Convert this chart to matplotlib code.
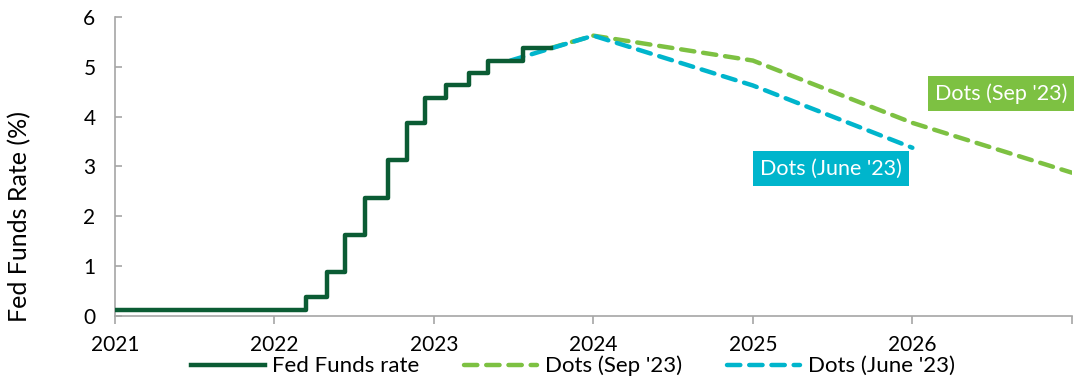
import matplotlib.pyplot as plt

plt.rcParams['font.family'] = ['Lato', 'DejaVu Sans']

# Fed funds, step changes (year fraction, level)
ff_fechas = [2021.0, 2022.20, 2022.33, 2022.445, 2022.565, 2022.715, 2022.834,
             2022.947, 2023.079, 2023.217, 2023.337, 2023.557, 2023.732]
ff_tasas = [0.125, 0.375, 0.875, 1.625, 2.375, 3.125, 3.875,
            4.375, 4.625, 4.875, 5.125, 5.375, 5.375]

sep_fechas = [2023.732, 2024.0, 2025.0, 2026.0, 2027.0]
sep_tasas = [5.375, 5.625, 5.125, 3.875, 2.875]

jun_fechas = [2023.48, 2024.0, 2025.0, 2026.0]
jun_tasas = [5.125, 5.625, 4.625, 3.375]

anios = [2021, 2022, 2023, 2024, 2025, 2026]

verde_osc = '#0B5C34'
verde = '#7DC142'
celeste = '#00B5CC'
gris = '#A6A6A6'

fig = plt.figure(figsize=(10.74, 3.77), dpi=100)
ax = fig.add_axes([0.107, 0.162, 0.891, 0.793])

ax.step(ff_fechas, ff_tasas, where='post', color=verde_osc, lw=3.2,
        label='Fed Funds rate', zorder=3)
ax.plot(sep_fechas, sep_tasas, color=verde, lw=3.2, dashes=(3, 2),
        dash_capstyle='round', label="Dots (Sep '23)", zorder=2)
ax.plot(jun_fechas, jun_tasas, color=celeste, lw=3.2, dashes=(3, 2),
        dash_capstyle='round', label="Dots (June '23)", zorder=2)

ax.set_xlim(2021, 2027)
ax.set_ylim(0, 6)
ax.set_xticks(anios + [2027])
ax.set_xticklabels([str(a) for a in anios] + [''])
ax.set_yticks(range(0, 7))

for lado in ['top', 'right']:
    ax.spines[lado].set_visible(False)
for lado in ['left', 'bottom']:
    ax.spines[lado].set_color(gris)
    ax.spines[lado].set_linewidth(1.2)

ax.tick_params(axis='x', direction='out', length=6, color=gris, width=1.2,
               labelsize=15, pad=8)
ax.tick_params(axis='y', direction='in', length=5, color=gris, width=1.2,
               labelsize=15, pad=14)
ax.set_ylabel('Fed Funds Rate (%)', fontsize=18)
ax.yaxis.set_label_coords(-0.087, 0.334)

ax.text(2026.555, 4.46, "Dots (Sep '23)", color='white', fontsize=15.5,
        ha='center', va='center',
        bbox=dict(boxstyle='square,pad=0.33', fc=verde, ec='none'))
ax.text(2025.49, 2.96, "Dots (June '23)", color='white', fontsize=15.5,
        ha='center', va='center',
        bbox=dict(boxstyle='square,pad=0.33', fc=celeste, ec='none'))

fig.legend(*ax.get_legend_handles_labels(), loc='center',
           bbox_to_anchor=(573 / 1074, 1 - 366 / 377), ncol=3,
           frameon=False, fontsize=16, handlelength=3.3, columnspacing=2.0,
           handletextpad=0.35, borderaxespad=0, borderpad=0)

fig.savefig('out.png', dpi=100)
